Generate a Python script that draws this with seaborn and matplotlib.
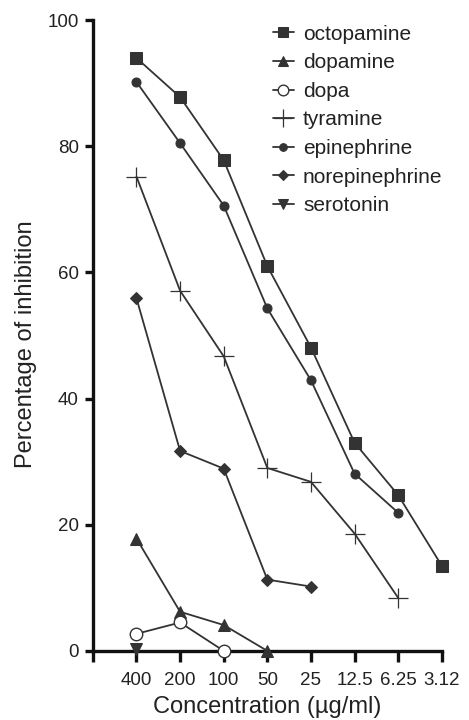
import matplotlib as mpl
import matplotlib.pyplot as plt
import seaborn as sns
import numpy as np
import pandas as pd

sns.set_style("ticks")
mpl.rcParams['font.family'] = ['Liberation Sans', 'DejaVu Sans']

# concentrations (ug/ml), shown as evenly spaced categories
concentrations = ["400", "200", "100", "50", "25", "12.5", "6.25", "3.12"]

octopamine = [94.0, 87.8, 77.8, 61.0, 48.1, 33.0, 24.7, 13.5]
dopamine = [17.8, 6.2, 4.1, 0.0, None, None, None, None]
dopa = [2.7, 4.5, 0.0, None, None, None, None, None]
tyramine = [75.2, 57.1, 46.7, 29.0, 26.8, 18.6, 8.4, None]
epinephrine = [90.2, 80.5, 70.6, 54.3, 42.9, 28.1, 21.9, None]
norepinephrine = [55.9, 31.7, 28.9, 11.3, 10.2, None, None, None]
serotonin = [0.3, None, None, None, None, None, None, None]

series = {
    "octopamine": octopamine,
    "dopamine": dopamine,
    "dopa": dopa,
    "tyramine": tyramine,
    "epinephrine": epinephrine,
    "norepinephrine": norepinephrine,
    "serotonin": serotonin,
}

# marker style per compound
styles = {
    "octopamine": dict(marker="s", markersize=9, markerfacecolor="#333333"),
    "dopamine": dict(marker="^", markersize=8, markerfacecolor="#333333"),
    "dopa": dict(marker="o", markersize=9, markerfacecolor="white", markeredgewidth=1.0),
    "tyramine": dict(marker="+", markersize=15, markeredgewidth=0.9),
    "epinephrine": dict(marker="o", markersize=6.5, markerfacecolor="#333333"),
    "norepinephrine": dict(marker="D", markersize=6.5, markerfacecolor="#333333"),
    "serotonin": dict(marker="v", markersize=8, markerfacecolor="#333333"),
}

rows = []
for name, vals in series.items():
    for i, v in enumerate(vals):
        if v is not None:
            rows.append({"compound": name, "pos": i, "inhibition": v})
df = pd.DataFrame(rows)

fig = plt.figure(figsize=(4.69, 7.2), dpi=100)
ax = fig.add_axes([0.198, 0.096, 0.744, 0.876])

for name in series:
    sub = df[df["compound"] == name]
    sns.lineplot(data=sub, x="pos", y="inhibition", ax=ax, color="#333333",
                 linewidth=1.3, markeredgecolor="#333333", label=name,
                 clip_on=False, zorder=3, **styles[name])

ax.set_xlim(-1, 7)
ax.set_ylim(0, 100)
ax.set_xticks(np.arange(-1, 8))
ax.set_xticklabels([""] + concentrations)
ax.set_yticks([0, 20, 40, 60, 80, 100])

for s in ["top", "right"]:
    ax.spines[s].set_visible(False)
for s in ["left", "bottom"]:
    ax.spines[s].set_linewidth(2.4)
    ax.spines[s].set_color("#111111")

ax.tick_params(axis="x", length=8, width=2.4, labelsize=13.5, pad=7,
               colors="#111111", labelcolor="#222222")
ax.tick_params(axis="y", length=6, width=2.4, labelsize=13.5, pad=4,
               colors="#111111", labelcolor="#222222")

ax.set_xlabel("Concentration (\u00b5g/ml)", fontsize=17, color="#222222", labelpad=5)
ax.set_ylabel("Percentage of inhibition", fontsize=17, color="#222222")
ax.yaxis.set_label_coords(-0.16, 0.487)

leg = ax.legend(loc="upper right", bbox_to_anchor=(1.026, 1.006), frameon=False,
                fontsize=15, handlelength=1.0, handletextpad=0.45, labelspacing=0.46,
                borderaxespad=0.0, labelcolor="#222222", markerscale=0.85)

fig.savefig("out.png", dpi=100)
